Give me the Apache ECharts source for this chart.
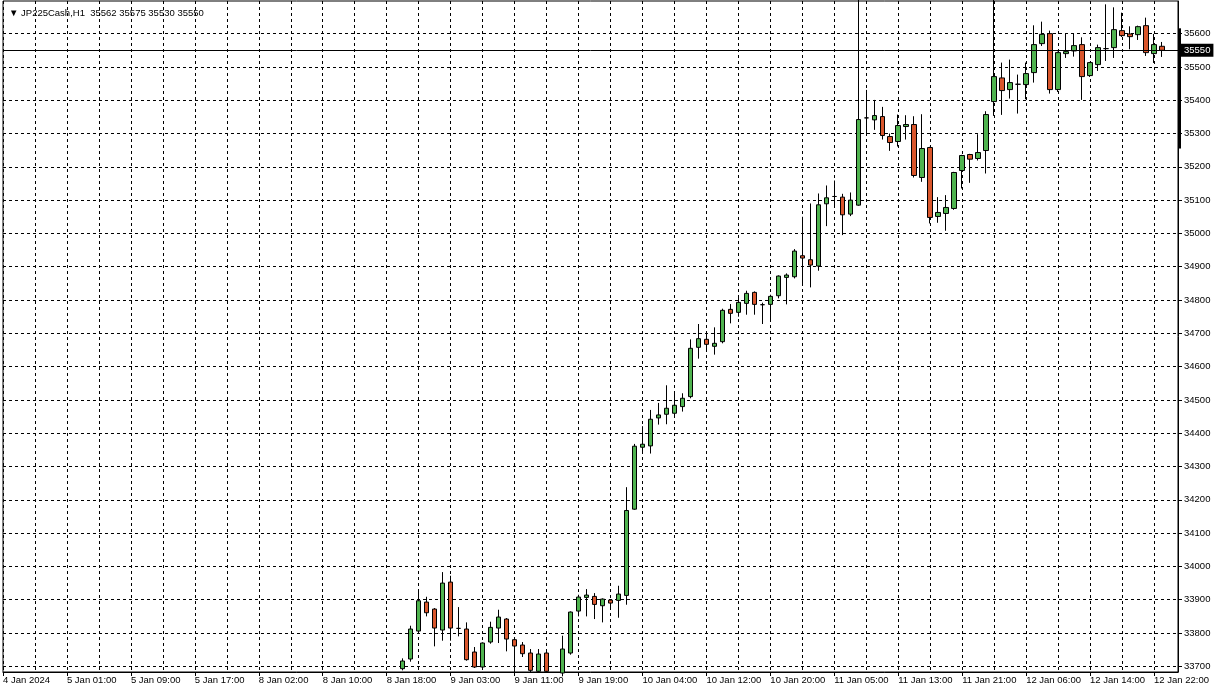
<!DOCTYPE html>
<html><head><meta charset="utf-8">
<script src="https://cdn.jsdelivr.net/npm/echarts@6/dist/echarts.min.js"></script>
<style>html,body{margin:0;padding:0;background:#fff}#c{width:1216px;height:687px}</style>
</head><body><div id="c"></div><script>
// ---- data ----
const tradingDays = ['4 Jan','5 Jan','8 Jan','9 Jan','10 Jan','11 Jan','12 Jan'];
const firstHour   = [16, 1, 1, 1, 1, 1, 1];
const lastHour = 23;
const padCategories = ['13 Jan 01:00', '13 Jan 02:00'];
const firstLabel = '4 Jan 2024';
const firstVisibleIndex = 50; // earlier bars lie below the visible price range
const opens  = [33693,33722,33806,33893,33872,33809,33953,33814,33812,33743,33698,33773,33815,33842,33780,33764,33740,33685,33740,null,
  33680,33740,33866,33907,33910,33882,33899,33898,33913,34172,34358,34362,34446,34457,34460,34480,34510,34658,34682,34661,
  34675,34772,34763,34790,34823,34786,34787,34813,34868,34870,34933,34921,34902,35089,35111,35109,35058,35085,35347,35341,
  35351,35291,35276,35321,35327,35168,35258,35051,35060,35075,35189,35237,35225,35249,35396,35467,35432,35448,35447,35483,
  35570,35600,35432,35540,35548,35567,35474,35507,35555,35558,35609,35599,35597,35624,35540,35562];
const highs  = [33724,33822,33932,33909,33875,33983,33972,33878,33832,33758,33772,33834,33870,33845,33784,33773,33752,33752,33752,null,
  33792,33865,33915,33932,33920,33904,33900,33942,34238,34368,34421,34470,34491,34544,34526,34520,34682,34728,34700,34718,
  34774,34788,34814,34828,34826,34792,34816,34874,34880,34953,35050,35090,35120,35144,35159,35119,35123,35750,35431,35401,
  35380,35300,35357,35355,35352,35358,35260,35109,35115,35185,35236,35239,35298,35367,35750,35513,35522,35477,35513,35625,
  35636,35609,35546,35601,35599,35589,35515,35567,35688,35679,35663,35622,35624,35648,35599,35575];
const lows   = [33688,33714,33800,33850,33760,33777,33777,33790,33717,33695,33695,33768,33770,33745,33680,33728,33680,33680,33680,null,
  33670,33735,33850,33850,33842,33832,33878,33846,33885,34170,34340,34339,34426,34427,34448,34465,34505,34624,34645,34636,
  34670,34730,34750,34756,34756,34728,34738,34805,34787,34865,34843,34838,34888,35022,35081,34995,35052,35083,35293,35311,
  35282,35248,35261,35282,35168,35155,35030,35032,35008,35071,35135,35152,35219,35180,35353,35356,35405,35360,35403,35453,
  35563,35420,35425,35527,35531,35401,35470,35488,35518,35527,35590,35553,35581,35533,35512,35530];
const closes = [33716,33812,33897,33861,33815,33950,33815,33814,33720,33698,33770,33817,33848,33782,33761,33738,33688,33737,33685,null,
  33752,33863,33908,33914,33886,33902,33890,33917,34168,34361,34367,34442,34455,34475,34484,34505,34655,34684,34667,34670,
  34769,34760,34793,34820,34787,34786,34811,34872,34875,34947,34926,34905,35086,35107,35111,35056,35100,35342,35347,35354,
  35294,35273,35324,35327,35174,35255,35048,35063,35078,35183,35234,35223,35243,35357,35471,35429,35453,35448,35480,35567,
  35598,35432,35543,35546,35564,35471,35513,35558,35555,35612,35594,35591,35621,35543,35567,35550];
const yTicks = [33700,33800,33900,34000,34100,34200,34300,34400,34500,34600,34700,34800,34900,35000,35100,35200,35300,35400,35500,35600];
const yMin = 33683, yMax = 35698;
const lastPrice = 35550;
const spreadBar = [35255, 35616];
const titleText = '\u25BC JP225Cash,H1  35562 35575 35530 35550';

// ---- build ----
const categories = [];
tradingDays.forEach((d, k) => {
  for (let h = firstHour[k]; h <= lastHour; h++) categories.push(d + ' ' + String(h).padStart(2, '0') + ':00');
});
padCategories.forEach(c => categories.push(c));

const candleData = categories.map((c, i) => {
  const k = i - firstVisibleIndex;
  if (k < 0 || k >= opens.length || opens[k] == null) return '-';
  return [opens[k], closes[k], lows[k], highs[k]];
});

const FONT = 'Tahoma, "DejaVu Sans", "Liberation Sans", sans-serif';
const LFONT = '"Liberation Sans", Arial, sans-serif';
const chart = echarts.init(document.getElementById('c'), null, {renderer: 'canvas'});
chart.setOption({
  animation: false,
  backgroundColor: '#fff',
  title: {text: titleText, left: 4, top: 3,
    textStyle: {fontSize: 9.5, fontWeight: 'normal', color: '#000', fontFamily: LFONT}},
  grid: {left: 2, right: 38, top: 1, bottom: 15, show: true, borderColor: '#000', borderWidth: 1, backgroundColor: 'transparent'},
  xAxis: {
    type: 'category', data: categories, boundaryGap: false,
    axisLine: {lineStyle: {color: '#000', width: 1}},
    axisTick: {show: true, interval: 7, length: 4, lineStyle: {color: '#000'}},
    axisLabel: {interval: 7, align: 'left', margin: 3, fontSize: 9.5, color: '#000', fontFamily: LFONT,
      formatter: (v, i) => i === 0 ? firstLabel : v},
    splitLine: {show: true, interval: 3, lineStyle: {color: '#000', type: [3, 3], width: 1}}
  },
  yAxis: {
    type: 'value', position: 'right', min: yMin, max: yMax, scale: true,
    axisLine: {show: true, lineStyle: {color: '#000', width: 1}},
    axisTick: {show: true, length: 4, customValues: yTicks, lineStyle: {color: '#000'}},
    axisLabel: {customValues: yTicks, margin: 6, fontSize: 9.5, color: '#000', fontFamily: LFONT,
      formatter: v => String(v)},
    splitLine: {show: true, lineStyle: {color: '#000', type: [3, 3], width: 1}}
  },
  series: [{
    type: 'candlestick', data: candleData, barWidth: 5, clip: true,
    itemStyle: {color: '#4fb34f', color0: '#d9562c', borderColor: '#000', borderColor0: '#000', borderColorDoji: '#000', borderWidth: 1},
    markLine: {
      silent: true, symbol: ['none', 'none'], animation: false,
      lineStyle: {color: '#000', type: 'solid', width: 1},
      label: {show: true, position: 'end', distance: 3, formatter: String(lastPrice), color: '#fff', backgroundColor: '#000',
        padding: [2, 3, 1, 3], fontSize: 9.5, fontFamily: LFONT},
      data: [{yAxis: lastPrice}]
    }
  }]
});

// spread bar on the price scale (decoration at the right axis)
const yA = chart.convertToPixel({yAxisIndex: 0}, spreadBar[1]);
const yB = chart.convertToPixel({yAxisIndex: 0}, spreadBar[0]);
const xAxisPos = chart.getWidth() - 38;
chart.setOption({graphic: [
  {type: 'rect', shape: {x: xAxisPos, y: yA, width: 3, height: yB - yA}, style: {fill: '#000'}, silent: true}
]});
</script></body></html>
